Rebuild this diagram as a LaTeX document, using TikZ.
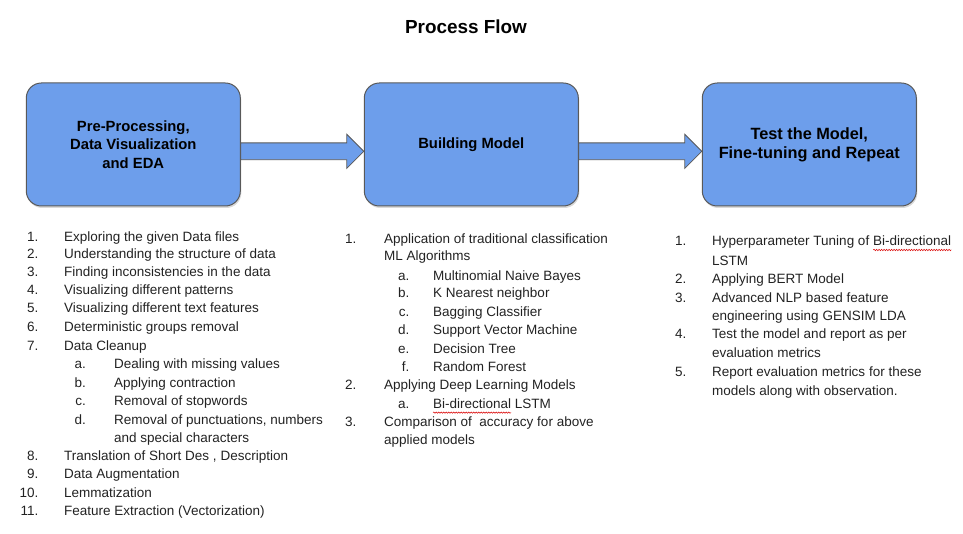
\documentclass[tikz,border=0pt]{standalone}
\usepackage{fontspec}
\setmainfont{Liberation Sans}
\usetikzlibrary{shadows,decorations.pathmorphing}

\definecolor{boxblue}{RGB}{109,158,235}
\definecolor{boxline}{RGB}{89,89,89}
\definecolor{listgray}{RGB}{34,34,34}

\tikzset{
  stage/.style={draw=boxline, line width=1pt, fill=boxblue, rounded corners=15pt,
    minimum width=214pt, minimum height=123pt, align=center,
    font=\bfseries\fontsize{14.8}{18.3}\selectfont,
    drop shadow={shadow xshift=1pt, shadow yshift=-2pt, opacity=0.3}},
  flow/.style={draw=boxline, line width=0.8pt, fill=boxblue, line join=miter},
  itemno/.style={anchor=base east, inner sep=0pt, text=listgray, font=\fontsize{13.5}{16}\selectfont},
  itemtext/.style={anchor=base west, inner sep=0pt, text=listgray, font=\fontsize{13.5}{16}\selectfont},
  spell/.style={draw=red!85!black, line width=0.5pt, decorate,
    decoration={snake, amplitude=0.7pt, segment length=2.5pt}}
}

\begin{document}
\begin{tikzpicture}[x=1pt,y=1pt]
    \useasboundingbox (0,0) rectangle (963,-534);
    \node[font=\bfseries\fontsize{18.9}{22}\selectfont] (title) at (466,-27) {Process Flow};
    % the three stages
    \node[stage] (pre) at (133.3,-144.5) {Pre-Processing,\\Data Visualization\\and EDA};
    \node[stage] (build) at (471.3,-144.5) {Building Model};
    \node[stage, font=\bfseries\fontsize{16.3}{18.7}\selectfont] (test) at (809.3,-144.5) {Test the Model,\\Fine-tuning and Repeat};
    % block arrows
    \draw[flow] ([yshift=1.6pt]pre.east) -- ([xshift=-17pt,yshift=1.6pt]build.west)
        -- ([xshift=-17pt,yshift=10.2pt]build.west) -- ([yshift=-6.8pt]build.west)
        -- ([xshift=-17pt,yshift=-23.8pt]build.west) -- ([xshift=-17pt,yshift=-15.2pt]build.west)
        -- ([yshift=-15.2pt]pre.east) -- cycle;
    \draw[flow] ([yshift=1.6pt]build.east) -- ([xshift=-17pt,yshift=1.6pt]test.west)
        -- ([xshift=-17pt,yshift=10.2pt]test.west) -- ([yshift=-6.8pt]test.west)
        -- ([xshift=-17pt,yshift=-23.8pt]test.west) -- ([xshift=-17pt,yshift=-15.2pt]test.west)
        -- ([yshift=-15.2pt]build.east) -- cycle;
    % list under pre-processing
    \foreach \lv/\y/\n/\t [count=\i] in {
        0/237/1./Exploring the given Data files,
        0/253.5/2./Understanding the structure of data,
        0/272/3./Finding inconsistencies in the data,
        0/290/4./Visualizing different patterns,
        0/308/5./Visualizing different text features,
        0/327/6./Deterministic groups removal,
        0/345.5/7./Data Cleanup,
        1/364/a./Dealing with missing values,
        1/382.5/b./Applying contraction,
        1/401/c./Removal of stopwords,
        1/420/d./{Removal of punctuations, numbers},
        1/437.5/{}/and special characters,
        0/456/8./{Translation of Short Des , Description},
        0/474/9./Data Augmentation,
        0/492.5/10./Lemmatization,
        0/511/11./Feature Extraction (Vectorization)} {
      \node[itemno] (pre-n\i) at ({38.5+47.5*\lv},{-\y-4.8}) {\n};
      \node[itemtext] (pre-t\i) at ({64+50*\lv},{-\y-4.8}) {\t};
    }
    % list under building model
    \foreach \lv/\y/\n/\t [count=\i] in {
        0/238.3/1./Application of traditional classification,
        0/256/{}/ML Algorithms,
        1/276/a./Multinomial Naive Bayes,
        1/293/b./K Nearest neighbor,
        1/311.7/c./Bagging Classifier,
        1/330/d./Support Vector Machine,
        1/348.3/e./Decision Tree,
        1/366.7/f./Random Forest,
        0/385/2./Applying Deep Learning Models,
        1/403.3/a./Bi-directional LSTM,
        0/421.7/3./Comparison of\ \ accuracy for above,
        0/440/{}/applied models} {
      \node[itemno] (bm-n\i) at ({356.5+53*\lv},{-\y-4.8}) {\n};
      \node[itemtext] (bm-t\i) at ({384+49*\lv},{-\y-4.8}) {\t};
    }
    % list under testing
    \foreach \y/\n/\t [count=\i] in {
        240.7/1./Hyperparameter Tuning of Bi-directional,
        260.7/{}/LSTM,
        279/2./Applying BERT Model,
        297.3/3./Advanced NLP based feature,
        316/{}/engineering using GENSIM LDA,
        334/4./Test the model and report as per,
        352.7/{}/evaluation metrics,
        371.7/5./Report evaluation metrics for these,
        390.7/{}/models along with observation.} {
      \node[itemno] (tm-n\i) at (686.5,{-\y-4.8}) {\n};
      \node[itemtext] (tm-t\i) at (712,{-\y-4.8}) {\t};
    }
    % spell-check marks
    \draw[spell] ([yshift=-4.5pt]bm-t10.base west) -- ([xshift=78pt,yshift=-4.5pt]bm-t10.base west);
    \draw[spell] ([xshift=-78pt,yshift=-4.5pt]tm-t1.base east) -- ([yshift=-4.5pt]tm-t1.base east);
\end{tikzpicture}
\end{document}
